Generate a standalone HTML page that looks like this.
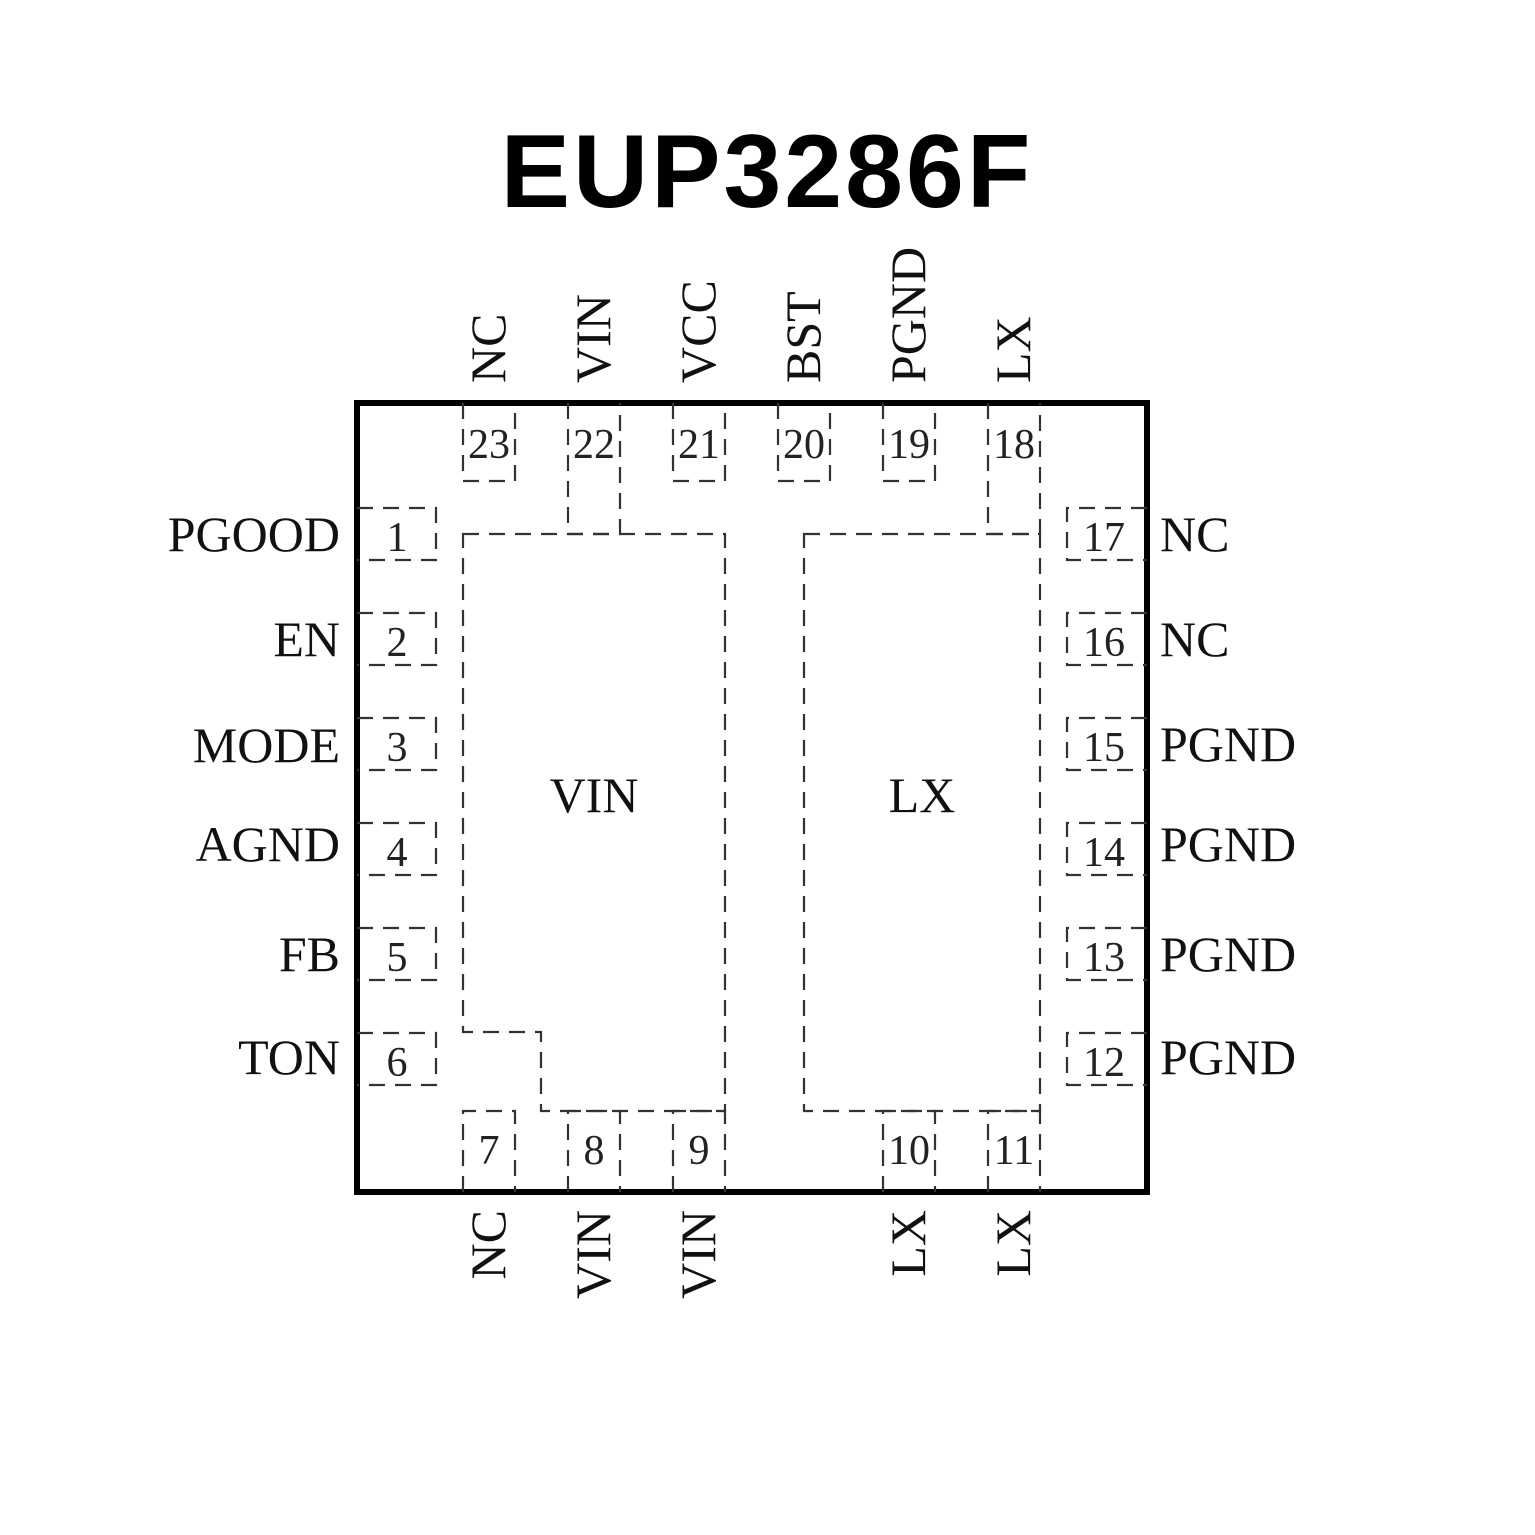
<!DOCTYPE html>
<html><head><meta charset="utf-8"><style>html,body{margin:0;padding:0;background:#fff}svg{display:block}</style></head>
<body>
<svg width="1535" height="1535" viewBox="0 0 1535 1535" xmlns="http://www.w3.org/2000/svg">
<rect width="1535" height="1535" fill="#fff"/>
<text x="767" y="207" text-anchor="middle" font-family="Liberation Sans, sans-serif" font-weight="bold" font-size="104" letter-spacing="3" fill="#000">EUP3286F</text>
<rect x="357" y="403" width="790" height="789" fill="none" stroke="#000" stroke-width="6"/>
<g fill="none" stroke="#333" stroke-width="2.2" stroke-dasharray="16 10">
<path d="M463 403V481H515V403"/>
<path d="M568 403V534H620V403"/>
<path d="M673 403V481H725V403"/>
<path d="M778 403V481H830V403"/>
<path d="M883 403V481H935V403"/>
<path d="M988 403V534H1040V403"/>
<path d="M357 508H436V560H357"/>
<path d="M357 613H436V665H357"/>
<path d="M357 718H436V770H357"/>
<path d="M357 823H436V875H357"/>
<path d="M357 928H436V980H357"/>
<path d="M357 1033H436V1085H357"/>
<path d="M1147 508H1067V560H1147"/>
<path d="M1147 613H1067V665H1147"/>
<path d="M1147 718H1067V770H1147"/>
<path d="M1147 823H1067V875H1147"/>
<path d="M1147 928H1067V980H1147"/>
<path d="M1147 1033H1067V1085H1147"/>
<path d="M463 1192V1111H515V1192"/>
<path d="M568 1192V1111H620V1192"/>
<path d="M673 1192V1111H725V1192"/>
<path d="M883 1192V1111H935V1192"/>
<path d="M988 1192V1111H1040V1192"/>
<path d="M463 534H725V1111H541V1032H463Z"/>
<path d="M804 534H1040V1111H804Z"/>
</g>
<g font-family="Liberation Serif, serif" font-size="42" fill="#222" text-anchor="middle">
<text x="489" y="458">23</text><text x="594" y="458">22</text><text x="699" y="458">21</text>
<text x="804" y="458">20</text><text x="909" y="458">19</text><text x="1014" y="458">18</text>
<text x="397" y="551">1</text><text x="397" y="656">2</text><text x="397" y="761">3</text>
<text x="397" y="866">4</text><text x="397" y="971">5</text><text x="397" y="1076">6</text>
<text x="1104" y="551">17</text><text x="1104" y="656">16</text><text x="1104" y="761">15</text>
<text x="1104" y="866">14</text><text x="1104" y="971">13</text><text x="1104" y="1076">12</text>
<text x="489" y="1164">7</text><text x="594" y="1164">8</text><text x="699" y="1164">9</text>
<text x="909" y="1164">10</text><text x="1014" y="1164">11</text>
</g>
<g font-family="Liberation Serif, serif" font-size="50" fill="#111">
<g text-anchor="end">
<text x="340" y="551">PGOOD</text><text x="340" y="656">EN</text><text x="340" y="762">MODE</text>
<text x="340" y="861">AGND</text><text x="340" y="971">FB</text><text x="340" y="1074">TON</text>
</g>
<text x="1160" y="551">NC</text><text x="1160" y="656">NC</text><text x="1160" y="761">PGND</text>
<text x="1160" y="861">PGND</text><text x="1160" y="971">PGND</text><text x="1160" y="1074">PGND</text>
<text x="594" y="812" text-anchor="middle">VIN</text>
<text x="922" y="812" text-anchor="middle">LX</text>
<text transform="translate(505,383) rotate(-90)">NC</text>
<text transform="translate(610,383) rotate(-90)">VIN</text>
<text transform="translate(715,383) rotate(-90)">VCC</text>
<text transform="translate(820,383) rotate(-90)">BST</text>
<text transform="translate(925,383) rotate(-90)">PGND</text>
<text transform="translate(1030,383) rotate(-90)">LX</text>
<g text-anchor="end">
<text transform="translate(505,1210) rotate(-90)">NC</text>
<text transform="translate(610,1210) rotate(-90)">VIN</text>
<text transform="translate(715,1210) rotate(-90)">VIN</text>
<text transform="translate(925,1210) rotate(-90)">LX</text>
<text transform="translate(1030,1210) rotate(-90)">LX</text>
</g>
</g>
</svg>
</body></html>
